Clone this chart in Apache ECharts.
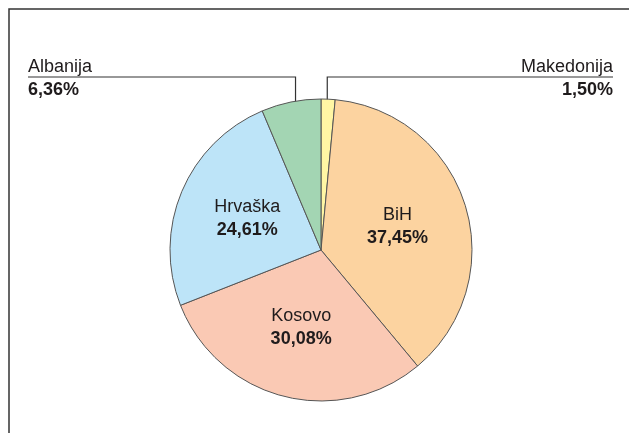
<!DOCTYPE html>
<html>
<head>
<meta charset="utf-8">
<script src="https://cdn.jsdelivr.net/npm/echarts@6/dist/echarts.min.js"></script>
<style>
  html, body { margin: 0; padding: 0; background: #fff; }
  #chart { width: 629px; height: 433px; }
</style>
</head>
<body>
<div id="chart"></div>
<script>
var names = ['Makedonija', 'BiH', 'Kosovo', 'Hrvaška', 'Albanija'];
var shares = [1.50, 37.45, 30.08, 24.61, 6.36];
var colors = ['#fff6a4', '#fcd3a0', '#fac9b4', '#bde4f8', '#a3d5b3'];

var CX = 321, CY = 250, R = 151;
var LINE_Y = 77;      // horizontal leader line height
var total = shares.reduce(function (a, b) { return a + b; }, 0);

// mid angle of a slice, clockwise from 12 o'clock, radians
function midAngle(i) {
    var before = 0;
    for (var k = 0; k < i; k++) before += shares[k];
    return (before + shares[i] / 2) / total * Math.PI * 2;
}
function pointAt(i, frac) {
    var a = midAngle(i);
    return [CX + Math.sin(a) * R * frac, CY - Math.cos(a) * R * frac];
}

var outside = { 'Makedonija': 'right', 'Albanija': 'left' };

var data = names.map(function (n, i) {
    return {
        name: n,
        value: shares[i],
        itemStyle: { color: colors[i] },
        label: { position: outside[n] ? 'outside' : 'inside' },
        labelLine: { show: !!outside[n] }
    };
});

var chart = echarts.init(document.getElementById('chart'));
chart.setOption({
    animation: false,
    graphic: [{
        type: 'polyline',
        shape: { points: [[9, 433], [9, 9], [629, 9]] },
        style: { stroke: '#333', lineWidth: 1.5, fill: null }
    }],
    series: [{
        type: 'pie',
        center: [CX, CY],
        radius: R,
        startAngle: 90,
        clockwise: true,
        avoidLabelOverlap: false,
        itemStyle: { borderColor: '#555', borderWidth: 1 },
        label: {
            show: true,
            color: '#1f1b1c',
            fontFamily: 'Liberation Sans, Arial, sans-serif',
            formatter: function (p) {
                return '{n|' + p.name + '}\n{v|' + p.value.toFixed(2).replace('.', ',') + '%}';
            },
            rich: {
                n: { fontSize: 18, lineHeight: 23, color: '#1f1b1c', fontFamily: 'Liberation Sans, Arial, sans-serif' },
                v: { fontSize: 18, lineHeight: 23, fontWeight: 'bold', color: '#1f1b1c', fontFamily: 'Liberation Sans, Arial, sans-serif' }
            }
        },
        labelLine: { lineStyle: { color: '#333', width: 1.2 } },
        labelLayout: function (p) {
            var i = p.dataIndex;
            var n = names[i];
            if (n === 'Albanija') {
                var a = pointAt(i, 0.85);
                return {
                    x: 28, y: LINE_Y + 2, align: 'left', verticalAlign: 'middle',
                    labelLinePoints: [a, [a[0], LINE_Y], [28, LINE_Y]]
                };
            }
            if (n === 'Makedonija') {
                var b = pointAt(i, 0.88);
                return {
                    x: 613, y: LINE_Y + 2, align: 'right', verticalAlign: 'middle',
                    labelLinePoints: [b, [b[0], LINE_Y], [613, LINE_Y]]
                };
            }
            var c = pointAt(i, 0.53);
            return { x: c[0], y: c[1], align: 'center', verticalAlign: 'middle' };
        },
        data: data
    }]
});
</script>
</body>
</html>
